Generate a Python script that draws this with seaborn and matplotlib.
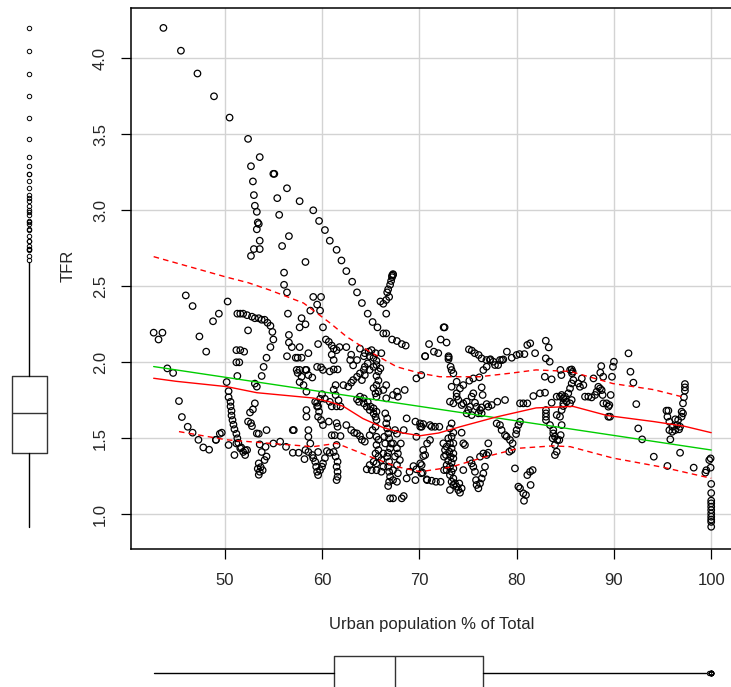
import numpy as np
import pandas as pd
import matplotlib
matplotlib.use("Agg")
import matplotlib.pyplot as plt
import seaborn as sns

# Points, (urban %, TFR), grouped by region of the plot
pts_top = [(43.7, 4.20), (45.5, 4.05), (47.2, 3.90), (48.9, 3.75), (50.5, 3.61), (52.4, 3.47),
           (52.7, 3.29), (53.6, 3.35), (52.9, 3.19), (53.0, 3.10), (53.1, 3.03), (53.3, 2.99),
           (53.5, 2.91), (53.4, 2.92), (53.3, 2.875), (53.6, 2.80), (53.0, 2.745), (53.6, 2.745),
           (52.7, 2.70), (55.0, 3.24), (55.1, 3.24), (56.4, 3.145), (55.4, 3.08), (57.7, 3.06),
           (55.6, 2.97), (56.6, 2.83), (55.9, 2.765), (58.3, 2.66), (56.1, 2.59), (59.1, 3.0),
           (59.7, 2.93), (60.3, 2.87), (60.8, 2.80), (61.5, 2.74), (62.0, 2.67), (62.5, 2.60),
           (67.3, 2.58), (67.2, 2.57)]

pts_upper = [(56.1, 2.51), (56.4, 2.46), (56.5, 2.32), (58.8, 2.34), (59.1, 2.43), (59.9, 2.43),
             (59.5, 2.38), (59.8, 2.34), (57.9, 2.29), (58.3, 2.25), (57.7, 2.23), (60.1, 2.23),
             (56.6, 2.18), (56.6, 2.13), (56.9, 2.10), (57.7, 2.10), (56.4, 2.04), (57.3, 2.03),
             (57.5, 2.03), (57.9, 2.03), (58.6, 2.06),
             (63.1, 2.53), (63.6, 2.46), (64.1, 2.39), (64.7, 2.32), (65.2, 2.265), (65.7, 2.23),
             (66.3, 2.19), (66.6, 2.19), (67.2, 2.15), (67.7, 2.14), (68.2, 2.12), (68.6, 2.11),
             (66.0, 2.40), (66.3, 2.385), (66.6, 2.41), (66.9, 2.43), (66.7, 2.46), (66.8, 2.48),
             (67.0, 2.51), (67.1, 2.535), (67.2, 2.56), (67.3, 2.575), (66.6, 2.32),
             (42.7, 2.195), (43.6, 2.195), (43.2, 2.15), (46.0, 2.44), (46.7, 2.37), (47.4, 2.17),
             (48.1, 2.07), (48.8, 2.27), (49.4, 2.32), (50.3, 2.40), (52.4, 2.21),
             (51.3, 2.32), (51.6, 2.32), (51.9, 2.32), (52.3, 2.31), (52.8, 2.30), (53.1, 2.29),
             (53.5, 2.29), (53.8, 2.28), (54.1, 2.28), (54.4, 2.26), (54.7, 2.24), (54.9, 2.20),
             (55.0, 2.15), (54.7, 2.10), (54.3, 2.03), (54.0, 1.97), (53.8, 1.91), (53.1, 1.86),
             (53.3, 1.84), (51.2, 2.08), (51.6, 2.08), (52.0, 2.07), (51.2, 2.00), (51.5, 2.00),
             (51.3, 1.91),
             (59.6, 2.12), (60.4, 2.15), (60.7, 2.135), (61.0, 2.11), (61.2, 2.09), (61.5, 2.08),
             (61.8, 2.10), (61.0, 2.05), (61.2, 2.015), (62.5, 2.10), (63.0, 2.05), (62.9, 2.015),
             (63.2, 1.98), (63.6, 2.015), (63.9, 2.09), (64.3, 2.04), (64.4, 2.06), (64.8, 2.07),
             (65.1, 2.08), (65.5, 2.06), (64.9, 2.04), (65.3, 2.03), (65.6, 2.01), (66.1, 2.06)]

pts_middle = [(44.1, 1.96), (44.7, 1.93), (45.3, 1.745), (45.6, 1.64), (46.2, 1.576), (46.7, 1.537),
              (47.3, 1.49), (47.8, 1.44), (48.4, 1.425), (49.1, 1.49), (49.7, 1.537),
              (57.4, 1.95), (57.7, 1.95), (58.3, 1.95), (58.4, 1.95), (57.5, 1.93), (57.9, 1.905),
              (57.7, 1.87), (58.1, 1.85), (58.6, 1.916), (59.0, 1.90), (59.5, 1.97), (59.9, 1.967),
              (60.1, 1.95), (60.8, 1.94), (61.2, 1.953), (61.6, 1.953), (61.4, 1.85), (61.2, 1.82),
              (61.4, 1.785), (61.7, 1.75), (61.9, 1.71), (61.5, 1.71), (60.8, 1.74), (61.0, 1.71),
              (60.3, 1.76), (60.0, 1.79), (59.8, 1.76), (59.5, 1.734), (59.6, 1.71), (59.7, 1.675),
              (59.6, 1.642), (59.9, 1.62), (60.1, 1.587), (60.7, 1.61), (61.0, 1.52), (61.3, 1.52),
              (61.9, 1.515), (61.5, 1.60), (61.6, 1.576),
              (62.2, 1.85), (62.7, 1.84), (63.0, 1.866), (63.2, 1.883), (63.6, 1.905), (63.9, 1.927),
              (64.3, 1.95), (64.1, 1.883), (64.4, 1.97), (64.7, 1.993), (64.4, 1.916), (64.9, 1.95),
              (65.3, 1.97), (65.6, 1.982), (66.0, 1.96), (65.8, 1.94), (65.6, 1.91), (65.8, 1.88),
              (65.6, 1.85), (65.3, 1.83), (65.5, 1.796), (65.6, 1.774), (65.8, 1.807), (66.3, 1.818),
              (66.6, 1.85), (66.6, 1.763), (67.3, 1.785), (67.7, 1.807), (67.8, 1.774), (68.5, 1.818),
              (69.7, 1.894), (70.2, 1.916), (70.6, 2.04),
              (50.2, 1.87), (50.4, 1.81), (50.4, 1.77), (50.6, 1.74), (50.6, 1.71), (50.7, 1.68),
              (50.7, 1.65), (50.8, 1.62), (50.9, 1.59), (51.0, 1.56), (51.2, 1.53), (51.3, 1.50),
              (51.4, 1.47), (51.7, 1.44), (52.1, 1.42), (51.0, 1.39),
              (53.1, 1.73), (52.9, 1.69), (52.6, 1.67), (52.4, 1.61), (52.7, 1.60), (52.8, 1.58)]

pts_lower = [(58.6, 1.554), (58.6, 1.51), (58.8, 1.466), (58.6, 1.41), (59.0, 1.39), (59.1, 1.37),
             (59.3, 1.346), (59.4, 1.313), (59.5, 1.28), (59.6, 1.258), (59.8, 1.29), (60.0, 1.313),
             (60.1, 1.335), (60.3, 1.37), (59.6, 1.41), (58.3, 1.423), (58.2, 1.363), (57.0, 1.405),
             (57.6, 1.405), (57.1, 1.554), (58.4, 1.642), (58.4, 1.686), (58.4, 1.807), (59.3, 1.74),
             (59.5, 1.71),
             (61.5, 1.456), (60.8, 1.405), (60.5, 1.416), (61.2, 1.41), (61.4, 1.38), (61.6, 1.346),
             (61.5, 1.313), (61.6, 1.28), (61.6, 1.247), (61.5, 1.225),
             (62.5, 1.587), (63.0, 1.554), (63.3, 1.537), (63.6, 1.532), (63.9, 1.515), (64.1, 1.49),
             (64.4, 1.478), (64.9, 1.52), (65.2, 1.554), (65.5, 1.576), (65.6, 1.62), (65.5, 1.642),
             (65.3, 1.664), (64.9, 1.686), (64.6, 1.708), (64.3, 1.73), (63.8, 1.74), (63.6, 1.756),
             (63.9, 1.774), (64.3, 1.763), (64.7, 1.74), (65.0, 1.708), (65.3, 1.697), (65.6, 1.675),
             (66.5, 1.664), (66.7, 1.631), (66.6, 1.598), (66.7, 1.565), (66.8, 1.532), (66.9, 1.50),
             (67.1, 1.466), (67.0, 1.434), (66.8, 1.405), (66.7, 1.38), (66.9, 1.346), (66.8, 1.313),
             (66.9, 1.28), (67.0, 1.247), (66.9, 1.214), (66.8, 1.186), (67.3, 1.225), (67.7, 1.214),
             (67.0, 1.105), (67.3, 1.105), (68.2, 1.105), (68.4, 1.12),
             (65.6, 1.51), (65.8, 1.49), (65.6, 1.456), (65.8, 1.423), (65.5, 1.40), (65.8, 1.38),
             (65.3, 1.346), (65.6, 1.335), (64.9, 1.324), (64.6, 1.296), (65.1, 1.29), (65.6, 1.29),
             (66.1, 1.28), (66.3, 1.313), (66.1, 1.357), (66.3, 1.40), (66.5, 1.466), (66.4, 1.51),
             (67.3, 1.466), (67.7, 1.434), (67.8, 1.40), (68.0, 1.357), (67.7, 1.324), (67.3, 1.29),
             (67.8, 1.27), (67.5, 1.38), (68.1, 1.466), (68.4, 1.554), (68.7, 1.631), (69.6, 1.61),
             (70.1, 1.576), (70.4, 1.594), (69.7, 1.51), (70.8, 1.466), (70.4, 1.423), (70.6, 1.39),
             (70.1, 1.335), (69.4, 1.317), (69.7, 1.296), (69.0, 1.28), (68.7, 1.236), (69.6, 1.225),
             (70.2, 1.27), (70.8, 1.225), (67.5, 1.554), (67.7, 1.53),
             (49.5, 1.53), (49.1, 1.49), (50.4, 1.456), (51.9, 1.41), (52.3, 1.423), (52.1, 1.39),
             (51.6, 1.434), (51.2, 1.466),
             (53.5, 1.335), (53.6, 1.28), (53.5, 1.26), (54.1, 1.357), (54.3, 1.38), (53.8, 1.41),
             (53.6, 1.46), (53.5, 1.53), (53.7, 1.31), (53.4, 1.30), (53.9, 1.29), (53.3, 1.532),
             (54.3, 1.554), (54.2, 1.444), (55.0, 1.466), (55.7, 1.478), (56.3, 1.444), (57.0, 1.554)]

pts_right = [(72.5, 2.23), (72.6, 2.23), (72.2, 2.15), (72.8, 2.13), (71.0, 2.12), (70.6, 2.04),
             (71.5, 2.07), (71.95, 2.06), (73.0, 2.04), (73.0, 2.02), (75.1, 2.085), (75.4, 2.077),
             (75.7, 2.06), (76.1, 2.048), (76.4, 2.026), (76.9, 2.015), (77.3, 2.02), (77.6, 2.004),
             (78.1, 1.982), (78.5, 2.015), (79.0, 2.07), (79.5, 2.03), (80.0, 2.048), (80.3, 2.054),
             (80.8, 2.054), (81.1, 2.114), (81.4, 2.125), (81.9, 2.06), (83.0, 2.142), (83.3, 2.098),
             (83.0, 2.026), (83.4, 2.004), (82.9, 1.905), (83.6, 1.888), (84.5, 1.95), (84.6, 1.916),
             (85.5, 1.95), (85.7, 1.927), (86.7, 1.894), (87.9, 1.894), (88.7, 1.975), (88.6, 1.932),
             (88.9, 1.905), (89.8, 1.905), (89.9, 1.971), (90.0, 2.004), (91.5, 2.059), (91.7, 1.938),
             (92.0, 1.866), (92.3, 1.725), (92.5, 1.565), (92.9, 1.493), (94.1, 1.379), (95.5, 1.318),
             (98.2, 1.307), (96.8, 1.405), (95.8, 1.493),
             (97.3, 1.857), (97.3, 1.835), (97.3, 1.813), (97.2, 1.77), (97.1, 1.73), (97.1, 1.664),
             (96.96, 1.675), (96.96, 1.642), (96.6, 1.62), (96.3, 1.625), (95.6, 1.682), (95.4, 1.682),
             (95.5, 1.642), (95.7, 1.609), (96.0, 1.576), (96.5, 1.587), (96.7, 1.559), (96.8, 1.576),
             (96.3, 1.554), (95.7, 1.554), (96.0, 1.543),
             (99.94, 1.368), (99.8, 1.357), (99.94, 1.307), (99.5, 1.29), (99.4, 1.274), (100.0, 1.20),
             (100.0, 1.14), (100.0, 1.09), (100.0, 1.072), (100.0, 1.05), (100.0, 1.028),
             (100.0, 1.005), (100.0, 0.984), (100.0, 0.965), (100.0, 0.95), (100.0, 0.918)]

pts_centre = [(73.32, 1.598), (73.15, 1.565), (73.5, 1.537), (73.32, 1.511), (72.98, 1.50),
              (73.15, 1.467), (73.5, 1.467), (72.81, 1.445), (73.32, 1.434), (73.08, 1.412),
              (73.5, 1.40), (72.74, 1.39), (73.22, 1.379), (73.5, 1.368), (72.98, 1.353),
              (73.32, 1.339), (72.81, 1.324), (73.15, 1.313), (73.5, 1.302), (73.32, 1.28),
              (73.15, 1.258), (73.5, 1.236), (73.32, 1.214), (73.67, 1.203), (73.84, 1.182),
              (74.01, 1.16), (74.18, 1.142), (74.35, 1.171), (74.11, 1.203), (73.15, 1.16),
              (73.5, 1.193), (72.54, 1.379), (72.64, 1.423), (72.47, 1.467), (72.54, 1.291),
              (72.81, 1.291), (72.06, 1.576), (71.61, 1.576), (71.27, 1.576), (71.1, 1.587),
              (70.07, 1.598), (70.24, 1.576), (70.41, 1.383), (70.24, 1.324), (70.34, 1.274),
              (70.76, 1.23), (71.27, 1.221), (71.71, 1.214), (72.19, 1.214), (71.1, 1.489),
              (73.5, 1.73), (73.15, 1.741), (73.32, 1.839), (73.84, 1.796), (74.18, 1.828),
              (74.52, 1.85), (73.84, 1.872), (73.5, 1.927), (73.32, 1.949), (73.22, 1.971),
              (73.02, 2.032), (73.84, 1.774), (74.01, 1.752), (74.35, 1.719), (74.52, 1.73),
              (74.87, 1.741), (75.21, 1.708), (75.38, 1.774), (75.55, 1.796), (75.72, 1.734),
              (75.89, 1.708), (76.24, 1.686), (76.41, 1.664), (76.92, 1.725), (77.09, 1.708),
              (77.44, 1.719), (75.04, 1.686), (74.87, 1.664), (75.38, 1.653), (76.07, 1.664),
              (76.41, 1.703), (76.51, 1.785), (76.41, 1.835), (75.14, 1.879), (75.55, 1.894),
              (76.17, 1.901), (76.58, 1.949), (76.92, 1.971), (77.26, 2.015), (77.78, 1.982),
              (78.29, 2.015), (78.63, 2.019), (78.02, 1.741), (78.81, 1.752), (77.95, 1.598),
              (78.29, 1.587), (78.46, 1.554), (78.81, 1.521), (78.98, 1.511), (79.32, 1.489),
              (79.59, 1.467), (79.49, 1.423), (79.25, 1.412), (80.0, 1.554), (80.18, 1.587),
              (80.35, 1.609), (79.94, 1.528), (74.35, 1.537), (74.52, 1.467), (74.69, 1.456),
              (75.21, 1.357), (75.38, 1.335), (75.55, 1.313), (75.72, 1.28), (75.83, 1.225),
              (75.89, 1.193), (76.07, 1.171), (76.24, 1.203), (76.41, 1.236), (76.58, 1.269),
              (76.75, 1.313), (76.92, 1.39), (77.09, 1.405), (77.09, 1.467), (76.58, 1.40),
              (76.24, 1.379), (74.52, 1.291), (79.83, 1.302), (80.18, 1.182), (80.35, 1.171),
              (80.69, 1.138), (80.96, 1.127), (80.76, 1.089), (81.1, 1.258), (81.38, 1.28),
              (81.65, 1.291), (81.44, 1.193), (80.35, 1.73), (80.69, 1.73), (81.1, 1.73),
              (81.72, 1.778), (82.4, 1.796), (82.92, 1.80), (83.02, 1.686), (83.02, 1.664),
              (83.02, 1.642), (83.02, 1.62), (83.6, 1.734), (83.43, 1.587), (83.77, 1.554),
              (83.77, 1.532), (83.94, 1.511), (83.7, 1.50), (83.94, 1.456), (84.12, 1.412),
              (83.94, 1.39), (84.18, 1.489), (84.39, 1.489), (84.53, 1.521), (84.63, 1.587),
              (84.46, 1.642), (84.63, 1.686), (84.8, 1.712), (84.12, 1.653), (84.12, 1.774),
              (84.46, 1.774), (84.63, 1.785), (84.8, 1.763), (84.97, 1.774), (85.14, 1.741),
              (85.49, 1.73), (85.66, 1.752), (85.31, 1.796), (85.49, 1.828), (85.66, 1.861),
              (85.83, 1.883), (85.76, 1.938), (85.66, 1.953), (84.8, 1.73), (86.34, 1.861),
              (86.51, 1.839), (86.86, 1.85), (87.03, 1.774), (87.37, 1.774), (87.71, 1.769),
              (88.06, 1.785), (88.23, 1.807), (88.4, 1.839), (88.57, 1.828), (88.74, 1.817),
              (88.84, 1.785), (88.91, 1.73), (89.25, 1.73), (89.43, 1.642), (89.6, 1.642),
              (89.53, 1.719), (89.67, 1.785), (89.43, 1.708)]

# linear fit (green) and smoother with spread (red)
fit_x = [42.7, 100.0]
fit_y = [1.972, 1.423]
smooth_x = [42.7, 45.0, 50.2, 53.3, 59.1, 60.8, 62.2, 64.2, 66.3, 68.3, 70.1, 72.0,
            74.2, 77.9, 82.0, 85.8, 89.3, 94.1, 97.2, 100.0]
smooth_y = [1.895, 1.875, 1.84, 1.80, 1.765, 1.74, 1.71, 1.63, 1.57, 1.535, 1.517, 1.535,
            1.576, 1.64, 1.70, 1.71, 1.65, 1.61, 1.58, 1.537]
upper_x = [42.7, 47.6, 50.2, 52.4, 54.6, 58.1, 60.8, 62.5, 64.9, 67.7, 70.1, 72.1,
           76.2, 79.6, 82.0, 85.5, 89.9, 94.1, 97.2]
upper_y = [2.695, 2.607, 2.56, 2.524, 2.476, 2.39, 2.26, 2.17, 2.07, 1.97, 1.928, 1.905,
           1.905, 1.93, 1.95, 1.94, 1.86, 1.82, 1.77]
lower_x = [45.3, 50.2, 54.6, 59.1, 61.5, 64.9, 67.7, 70.1, 73.2, 76.9, 80.3, 83.7,
           85.5, 89.9, 95.0, 100.0]
lower_y = [1.544, 1.49, 1.467, 1.445, 1.467, 1.38, 1.313, 1.28, 1.31, 1.38, 1.435, 1.45,
           1.445, 1.37, 1.31, 1.237]

# marginal box plot summaries
tfr_box = dict(q1=1.405, med=1.664, q3=1.91, whislo=0.918, whishi=2.66)
urban_box = dict(q1=61.23, med=67.47, q3=76.55, whislo=42.73, whishi=99.5)

df = pd.DataFrame(pts_top + pts_upper + pts_middle + pts_lower + pts_right + pts_centre,
                  columns=["urban", "TFR"])

sns.set_style("white")
plt.rcParams["font.family"] = ["Liberation Sans", "DejaVu Sans"]

W, H = 731, 687
fig = plt.figure(figsize=(W / 100, H / 100), dpi=100)

def box(px_left, px_top, px_w, px_h):
    return [px_left / W, 1 - (px_top + px_h) / H, px_w / W, px_h / H]

ax = fig.add_axes(box(131, 8.3, 602, 540.2))
ax.set_axisbelow(True)
ax.grid(True, color="#d3d3d3", lw=1)

sns.scatterplot(data=df, x="urban", y="TFR", ax=ax, marker="o", s=22,
                facecolor="none", edgecolor="black", linewidth=0.9, zorder=3)
sns.lineplot(x=fit_x, y=fit_y, ax=ax, color="#00cd00", lw=1, zorder=4)
sns.lineplot(x=smooth_x, y=smooth_y, ax=ax, color="red", lw=1, sort=False, estimator=None, zorder=4)
sns.lineplot(x=upper_x, y=upper_y, ax=ax, color="red", lw=1, sort=False, estimator=None,
             dashes=False, linestyle=(0, (4, 3)), zorder=4)
sns.lineplot(x=lower_x, y=lower_y, ax=ax, color="red", lw=1, sort=False, estimator=None,
             dashes=False, linestyle=(0, (4, 3)), zorder=4)

ax.set_xlim(40.37, 102.24)
ax.set_ylim(0.775, 4.329)
ax.set_xticks([50, 60, 70, 80, 90, 100])
ax.set_yticks([1.0, 1.5, 2.0, 2.5, 3.0, 3.5, 4.0])
ax.set_yticklabels(["1.0", "1.5", "2.0", "2.5", "3.0", "3.5", "4.0"], rotation=90, va="center")
ax.tick_params(axis="both", direction="out", length=7.5, width=0.9, color="black",
               labelsize=12, bottom=True, left=True)
ax.tick_params(axis="x", pad=10)
ax.tick_params(axis="y", pad=9)
ax.set_xlabel("")
ax.set_ylabel("")
for s in ax.spines.values():
    s.set_color("black")
    s.set_linewidth(1.1)

fig.text(432 / W, 1 - 625 / H, "Urban population % of Total", ha="center", va="center", fontsize=12)
fig.text(68 / W, 1 - 266 / H, "TFR", ha="center", va="center", rotation=90, fontsize=12)

boxprops = dict(color="#333333", lw=1)
flier = dict(marker="o", mfc="none", mec="black", ms=3.2, mew=0.7)

# left marginal box plot of TFR
axl = fig.add_axes(box(0, 8.3, 58, 540.2))
stats_l = dict(tfr_box, fliers=df.loc[df["TFR"] > tfr_box["whishi"], "TFR"].values)
axl.bxp([stats_l], positions=[1], widths=[35 / 58 * 2], vert=True, showcaps=False,
        boxprops=boxprops, medianprops=boxprops, whiskerprops=dict(color="black", lw=1),
        flierprops=flier)
axl.set_xlim(0, 2)
axl.set_ylim(0.775, 4.329)
axl.axis("off")

# bottom marginal box plot of urban %
axb = fig.add_axes(box(131, 646, 602, 54))
stats_b = dict(urban_box, fliers=df.loc[df["urban"] > urban_box["whishi"], "urban"].values)
axb.bxp([stats_b], positions=[1], widths=[35 / 54 * 2], vert=False, showcaps=False,
        boxprops=boxprops, medianprops=boxprops, whiskerprops=dict(color="black", lw=1),
        flierprops=flier)
axb.set_xlim(40.37, 102.24)
axb.set_ylim(0, 2)
axb.axis("off")

fig.savefig("out.png", dpi=100)
